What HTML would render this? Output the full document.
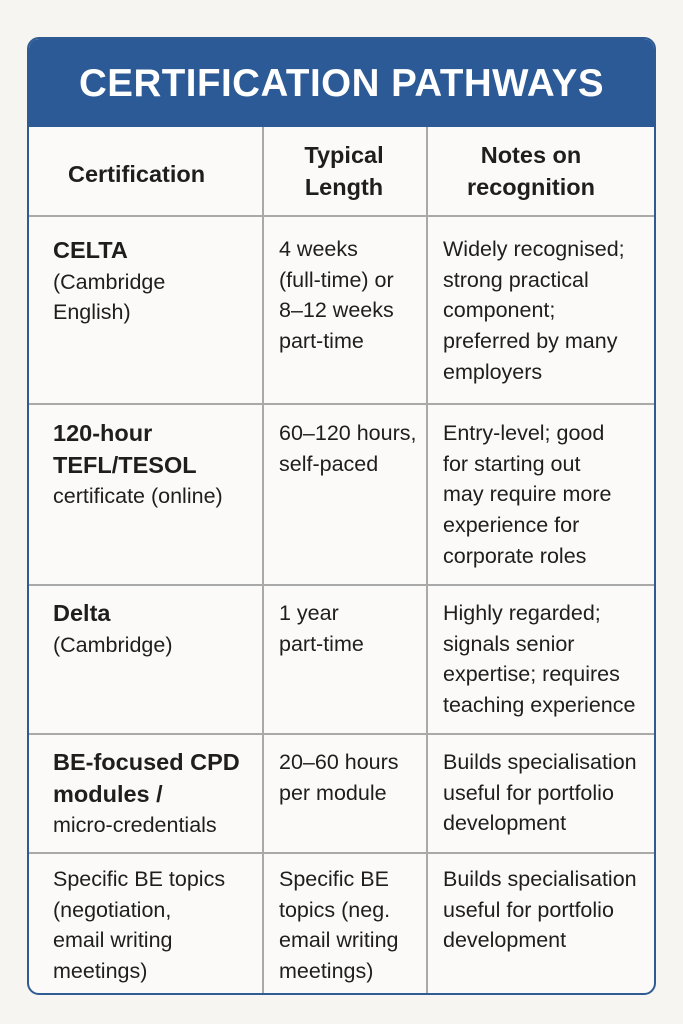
<!DOCTYPE html>
<html><head><meta charset="utf-8"><style>
body{margin:0;width:683px;height:1024px;background:#f7f5f1;position:relative;font-family:"Liberation Sans",sans-serif;color:#1e1e1e;overflow:hidden}
.card{position:absolute;left:27px;top:37px;width:629px;height:958px;border:2px solid #2f5b92;border-radius:12px;background:#fbfaf8;overflow:hidden;box-sizing:border-box}
.hd{position:absolute;left:0;top:0;width:100%;height:88px;background:#2c5a97;color:#fff;font-weight:bold;font-size:38.5px;text-align:center;line-height:90px;letter-spacing:0.5px}
.v{position:absolute;top:88px;bottom:0;width:2px;background:#a9a9a9}
.h{position:absolute;left:0;right:0;height:2px;background:#a9a9a9}
.t{position:absolute;font-size:21.5px;line-height:30.7px;white-space:nowrap}
b{font-weight:bold;font-size:23.5px}
.hb b{font-size:23.5px}
.c{text-align:center}
</style></head><body>
<div class="card">
<div class="hd">CERTIFICATION PATHWAYS</div>
<div class="v" style="left:233px"></div>
<div class="v" style="left:397px"></div>
<div class="h" style="top:176px"></div>
<div class="h" style="top:364px"></div>
<div class="h" style="top:545px"></div>
<div class="h" style="top:694px"></div>
<div class="h" style="top:813px"></div>
</div>
<div class="t hb" style="left:68px;top:159px"><b>Certification</b></div>
<div class="t c hb" style="left:262px;width:164px;top:140px"><b>Typical<br>Length</b></div>
<div class="t c hb" style="left:426px;width:210px;top:140px"><b>Notes on<br>recognition</b></div>

<div class="t" style="left:53px;top:235px"><b>CELTA</b><br>(Cambridge<br>English)</div>
<div class="t" style="left:279px;top:234px">4 weeks<br>(full-time) or<br>8–12 weeks<br>part-time</div>
<div class="t" style="left:443px;top:234px">Widely recognised;<br>strong practical<br>component;<br>preferred by many<br>employers</div>

<div class="t" style="left:53px;top:418px"><b>120-hour<br>TEFL/TESOL</b><br>certificate (online)</div>
<div class="t" style="left:279px;top:418px">60–120 hours,<br>self-paced</div>
<div class="t" style="left:443px;top:418px">Entry-level; good<br>for starting out<br>may require more<br>experience for<br>corporate roles</div>

<div class="t" style="left:53px;top:598px"><b>Delta</b><br>(Cambridge)</div>
<div class="t" style="left:279px;top:598px">1 year<br>part-time</div>
<div class="t" style="left:443px;top:598px">Highly regarded;<br>signals senior<br>expertise; requires<br>teaching experience</div>

<div class="t" style="left:53px;top:747px"><b>BE-focused CPD<br>modules /</b><br>micro-credentials</div>
<div class="t" style="left:279px;top:747px">20–60 hours<br>per module</div>
<div class="t" style="left:443px;top:747px">Builds specialisation<br>useful for portfolio<br>development</div>

<div class="t" style="left:53px;top:864px">Specific BE topics<br>(negotiation,<br>email writing<br>meetings)</div>
<div class="t" style="left:279px;top:864px">Specific BE<br>topics (neg.<br>email writing<br>meetings)</div>
<div class="t" style="left:443px;top:864px">Builds specialisation<br>useful for portfolio<br>development</div>
</body></html>
